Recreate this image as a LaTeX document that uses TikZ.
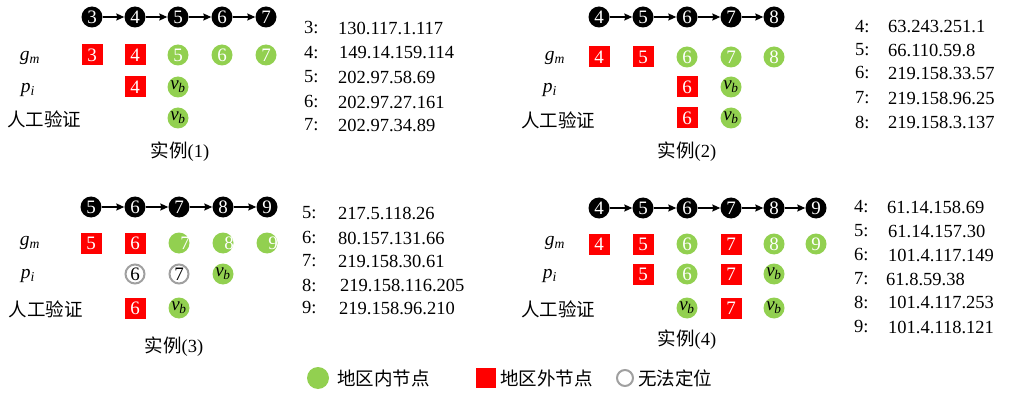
\documentclass[tikz,border=0pt]{standalone}
\usepackage{fontspec}
\setmainfont{Liberation Serif}
\newfontfamily\cjk{Noto Sans CJK SC}
\usetikzlibrary{arrows.meta}
\definecolor{ggreen}{RGB}{146,208,80}
\definecolor{rred}{RGB}{255,0,0}
\definecolor{rgray}{RGB}{160,160,160}
\newcommand\vblbl{\textit{v}\kern-0.3pt\textsubscript{\textit{b}}}
\newcommand\gmlbl{\textit{g}\textsubscript{\textit{m}}}
\newcommand\pilbl{\textit{p}\textsubscript{\textit{i}}}
\begin{document}
\begin{tikzpicture}[x=1pt,y=-1pt,
  nfont/.style={font=\fontsize{19}{19}\selectfont},
  blk/.style={circle,fill=black,minimum size=21pt,inner sep=0pt,text=white,nfont},
  rsq/.style={rectangle,fill=rred,minimum size=21pt,inner sep=0pt,text=white,nfont},
  gc/.style={circle,fill=ggreen,minimum size=21pt,inner sep=0pt,text=white,nfont},
  gvb/.style={gc,text=black},
  ring/.style={circle,draw=rgray,line width=2pt,minimum size=19pt,inner sep=0pt,text=black,nfont},
  arr/.style={-{Stealth[length=8pt,width=7pt,inset=1pt]},line width=1.2pt},
  ip/.style={anchor=west,inner sep=0pt,font=\fontsize{18.5}{18.5}\selectfont},
  rowlbl/.style={inner sep=0pt,font=\fontsize{19.5}{19.5}\selectfont},
  cjklbl/.style={inner sep=0pt,font=\fontsize{18.5}{18.5}\selectfont\cjk},
  caption/.style={inner sep=0pt,font=\fontsize{18.5}{18.5}\selectfont}
]
\useasboundingbox (0,0) rectangle (1010,393);

%% ---------------- Panel 1 ----------------
\node[blk] (p1c3) at (92,17) {3};
\node[blk] (p1c4) at (135,17) {4};
\node[blk] (p1c5) at (178,17) {5};
\node[blk] (p1c6) at (222,17) {6};
\node[blk] (p1c7) at (266,17) {7};
\draw[arr] (p1c3) -- (p1c4);
\draw[arr] (p1c4) -- (p1c5);
\draw[arr] (p1c5) -- (p1c6);
\draw[arr] (p1c6) -- (p1c7);
\node[rowlbl] (p1lg) at (30,58) {\gmlbl};
\node[rowlbl] (p1lp) at (28,90) {\pilbl};
\node[cjklbl] (p1lv) at (44,119) {人工验证};
\node[rsq] (p1g3) at (92,55) {3};
\node[rsq] (p1g4) at (135,55) {4};
\node[gc] (p1g5) at (178,55) {5};
\node[gc] (p1g6) at (222,55) {6};
\node[gc] (p1g7) at (266,55) {7};
\node[rsq] (p1p4) at (135,87) {4};
\node[gvb] (p1p5) at (178,87) {\vblbl};
\node[gvb] (p1v5) at (178,118) {\vblbl};
\node[caption] (p1cap) at (180,152) {{\cjk 实例}(1)};
\node[ip] (p1i3) at (304,28) {3:};
\node[ip] (p1a3) at (338,28) {130.117.1.117};
\node[ip] (p1i4) at (304,53) {4:};
\node[ip] (p1a4) at (339,53) {149.14.159.114};
\node[ip] (p1i5) at (304,77) {5:};
\node[ip] (p1a5) at (338,77) {202.97.58.69};
\node[ip] (p1i6) at (304,102) {6:};
\node[ip] (p1a6) at (338,102) {202.97.27.161};
\node[ip] (p1i7) at (304,125) {7:};
\node[ip] (p1a7) at (338,125) {202.97.34.89};

%% ---------------- Panel 2 ----------------
\node[blk] (p2c4) at (599,17) {4};
\node[blk] (p2c5) at (643,17) {5};
\node[blk] (p2c6) at (687,17) {6};
\node[blk] (p2c7) at (731,17) {7};
\node[blk] (p2c8) at (774,17) {8};
\draw[arr] (p2c4) -- (p2c5);
\draw[arr] (p2c5) -- (p2c6);
\draw[arr] (p2c6) -- (p2c7);
\draw[arr] (p2c7) -- (p2c8);
\node[rowlbl] (p2lg) at (555,58) {\gmlbl};
\node[rowlbl] (p2lp) at (550,90) {\pilbl};
\node[cjklbl] (p2lv) at (558,120) {人工验证};
\node[rsq] (p2g4) at (599,57) {4};
\node[rsq] (p2g5) at (643,57) {5};
\node[gc] (p2g6) at (687,57) {6};
\node[gc] (p2g7) at (731,57) {7};
\node[gc] (p2g8) at (774,57) {8};
\node[rsq] (p2p6) at (687,87) {6};
\node[gvb] (p2p7) at (731,87) {\vblbl};
\node[rsq] (p2v6) at (687,118) {6};
\node[gvb] (p2v7) at (731,118) {\vblbl};
\node[caption] (p2cap) at (687,152) {{\cjk 实例}(2)};
\node[ip] (p2i4) at (855,27) {4:};
\node[ip] (p2a4) at (888,27) {63.243.251.1};
\node[ip] (p2i5) at (855,50) {5:};
\node[ip] (p2a5) at (888,50) {66.110.59.8};
\node[ip] (p2i6) at (855,73) {6:};
\node[ip] (p2a6) at (888,73) {219.158.33.57};
\node[ip] (p2i7) at (855,98) {7:};
\node[ip] (p2a7) at (888,98) {219.158.96.25};
\node[ip] (p2i8) at (855,122) {8:};
\node[ip] (p2a8) at (888,122) {219.158.3.137};

%% ---------------- Panel 3 ----------------
\node[blk] (p3c5) at (91,207) {5};
\node[blk] (p3c6) at (135,207) {6};
\node[blk] (p3c7) at (179,207) {7};
\node[blk] (p3c8) at (223,207) {8};
\node[blk] (p3c9) at (267,207) {9};
\draw[arr] (p3c5) -- (p3c6);
\draw[arr] (p3c6) -- (p3c7);
\draw[arr] (p3c7) -- (p3c8);
\draw[arr] (p3c8) -- (p3c9);
\node[rowlbl] (p3lg) at (30,243) {\gmlbl};
\node[rowlbl] (p3lp) at (28,276) {\pilbl};
\node[cjklbl] (p3lv) at (46,309) {人工验证};
\node[rsq] (p3g5) at (91,243) {5};
\node[rsq] (p3g6) at (135,243) {6};
\node[gc,label={[text=white,nfont,xshift=6pt]center:7}] (p3g7) at (179,243) {};
\node[gc,label={[text=white,nfont,xshift=6pt]center:8}] (p3g8) at (223,243) {};
\node[gc,label={[text=white,nfont,xshift=6pt]center:9}] (p3g9) at (267,243) {};
\node[ring] (p3p6) at (135,274) {6};
\node[ring] (p3p7) at (179,274) {7};
\node[gvb] (p3p8) at (223,274) {\vblbl};
\node[rsq] (p3v6) at (135,308) {6};
\node[gvb] (p3v7) at (179,308) {\vblbl};
\node[caption] (p3cap) at (174,347) {{\cjk 实例}(3)};
\node[ip] (p3i5) at (302,213) {5:};
\node[ip] (p3a5) at (338,213) {217.5.118.26};
\node[ip] (p3i6) at (302,238) {6:};
\node[ip] (p3a6) at (338,238) {80.157.131.66};
\node[ip] (p3i7) at (302,261) {7:};
\node[ip] (p3a7) at (338,261) {219.158.30.61};
\node[ip] (p3i8) at (302,285) {8:};
\node[ip] (p3a8) at (340,285) {219.158.116.205};
\node[ip] (p3i9) at (302,308) {9:};
\node[ip] (p3a9) at (339,308) {219.158.96.210};

%% ---------------- Panel 4 ----------------
\node[blk] (p4c4) at (599,208) {4};
\node[blk] (p4c5) at (643,208) {5};
\node[blk] (p4c6) at (687,208) {6};
\node[blk] (p4c7) at (731,208) {7};
\node[blk] (p4c8) at (774,208) {8};
\node[blk] (p4c9) at (816,208) {9};
\draw[arr] (p4c4) -- (p4c5);
\draw[arr] (p4c5) -- (p4c6);
\draw[arr] (p4c6) -- (p4c7);
\draw[arr] (p4c7) -- (p4c8);
\draw[arr] (p4c8) -- (p4c9);
\node[rowlbl] (p4lg) at (555,243) {\gmlbl};
\node[rowlbl] (p4lp) at (550,276) {\pilbl};
\node[cjklbl] (p4lv) at (558,309) {人工验证};
\node[rsq] (p4g4) at (599,244) {4};
\node[rsq] (p4g5) at (643,244) {5};
\node[gc] (p4g6) at (687,244) {6};
\node[rsq] (p4g7) at (731,244) {7};
\node[gc] (p4g8) at (774,244) {8};
\node[gc] (p4g9) at (816,244) {9};
\node[rsq] (p4p5) at (643,274) {5};
\node[gc] (p4p6) at (687,274) {6};
\node[rsq] (p4p7) at (731,274) {7};
\node[gvb] (p4p8) at (774,274) {\vblbl};
\node[gvb] (p4v6) at (687,308) {\vblbl};
\node[rsq] (p4v7) at (731,308) {7};
\node[gvb] (p4v8) at (774,308) {\vblbl};
\node[caption] (p4cap) at (687,340) {{\cjk 实例}(4)};
\node[ip] (p4i4) at (854,207) {4:};
\node[ip] (p4a4) at (887,207) {61.14.158.69};
\node[ip] (p4i5) at (854,231) {5:};
\node[ip] (p4a5) at (888,231) {61.14.157.30};
\node[ip] (p4i6) at (854,255) {6:};
\node[ip] (p4a6) at (888,255) {101.4.117.149};
\node[ip] (p4i7) at (854,279) {7:};
\node[ip] (p4a7) at (886,279) {61.8.59.38};
\node[ip] (p4i8) at (854,302) {8:};
\node[ip] (p4a8) at (888,302) {101.4.117.253};
\node[ip] (p4i9) at (854,327) {9:};
\node[ip] (p4a9) at (888,327) {101.4.118.121};

%% ---------------- Legend ----------------
\node[gc,minimum size=22pt] (lgin) at (318,378) {};
\node[cjklbl,anchor=west] (lgint) at (337,378) {地区内节点};
\node[rsq,minimum size=20pt] (lgout) at (486,378) {};
\node[cjklbl,anchor=west] (lgoutt) at (500,378) {地区外节点};
\node[ring,minimum size=16pt] (lgna) at (625,378) {};
\node[cjklbl,anchor=west] (lgnat) at (638,378) {无法定位};
\end{tikzpicture}
\end{document}
